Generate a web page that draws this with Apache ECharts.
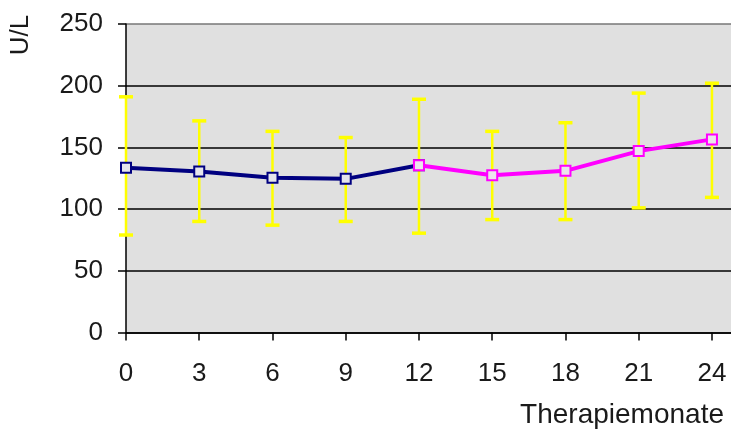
<!DOCTYPE html>
<html>
<head>
<meta charset="utf-8">
<script src="https://cdn.jsdelivr.net/npm/echarts@6/dist/echarts.min.js"></script>
<style>html,body{margin:0;padding:0;background:#fff}#c{width:731px;height:431px}</style>
</head>
<body>
<div id="c"></div>
<script>
var months = [0, 3, 6, 9, 12, 15, 18, 21, 24];
var means  = [133.5, 130.5, 125.5, 124.5, 135.5, 127.5, 131, 147, 156.5];
var lows   = [79, 90, 87, 90, 80.5, 91.5, 91.5, 101, 109.5];
var highs  = [191, 171.5, 163, 158, 189, 163, 170, 194, 202];
var yTicks = [0, 50, 100, 150, 200, 250];
var splitAt = 4; // index where the second phase starts (month 12)

var phase1 = [], phase2 = [], bars = [];
for (var i = 0; i < months.length; i++) {
  if (i <= splitAt) phase1.push([months[i], means[i]]);
  if (i >= splitAt) phase2.push([months[i], means[i]]);
  bars.push([months[i], lows[i], highs[i]]);
}

var chart = echarts.init(document.getElementById('c'));
var FONT = 'Liberation Sans, Arial, sans-serif';
var TXT = '#1a1a1a';
chart.setOption({
  animation: false,
  backgroundColor: '#fff',
  grid: { left: 126, right: 0, top: 24, bottom: 98.5, show: true, backgroundColor: '#e0e0e0', borderWidth: 0 },
  xAxis: {
    type: 'value', min: 0, max: 24.78, interval: 3,
    axisLine: { lineStyle: { color: '#000', width: 1.5 } },
    axisTick: { show: true, length: 8, customValues: months, lineStyle: { color: '#000', width: 1.5 } },
    axisLabel: { customValues: months, margin: 28, fontSize: 26, color: TXT, fontFamily: FONT },
    splitLine: { show: false }
  },
  yAxis: {
    type: 'value', min: 0, max: 250, interval: 50,
    axisLine: { show: true, lineStyle: { color: '#000', width: 1.5 } },
    axisTick: { show: true, length: 8, lineStyle: { color: '#000', width: 1.5 } },
    axisLabel: { margin: 23, fontSize: 26, color: TXT, fontFamily: FONT,
      formatter: function (v) { return yTicks.indexOf(v) >= 0 ? String(v) : ''; } },
    splitLine: { show: true, lineStyle: { color: ['#000', '#000', '#000', '#000', '#000', '#777'], width: 1.5 } }
  },
  graphic: [
    { type: 'text', x: 21, y: 35, rotation: Math.PI / 2,
      style: { text: 'U/L', fontSize: 26, fontFamily: FONT, fill: TXT, align: 'center', verticalAlign: 'middle' } },
    { type: 'text', right: 7, top: 401,
      style: { text: 'Therapiemonate', fontSize: 28, fontFamily: FONT, fill: TXT } }
  ],
  series: [
    {
      type: 'custom', z: 1, data: bars,
      renderItem: function (params, api) {
        var x = api.value(0);
        var lo = api.coord([x, api.value(1)]);
        var hi = api.coord([x, api.value(2)]);
        var hw = 7;
        var st = { stroke: '#ffff00', lineWidth: 2.5 };
        var cap = { stroke: '#ffff00', lineWidth: 3.5 };
        return { type: 'group', children: [
          { type: 'line', shape: { x1: lo[0], y1: lo[1], x2: hi[0], y2: hi[1] }, style: st },
          { type: 'line', shape: { x1: lo[0] - hw, y1: lo[1], x2: lo[0] + hw, y2: lo[1] }, style: cap },
          { type: 'line', shape: { x1: hi[0] - hw, y1: hi[1], x2: hi[0] + hw, y2: hi[1] }, style: cap }
        ]};
      }
    },
    {
      type: 'line', z: 3, data: phase1, symbol: 'rect', symbolSize: 10, showAllSymbol: true,
      lineStyle: { color: '#000080', width: 4 },
      itemStyle: { color: '#e4e4ec', borderColor: '#000080', borderWidth: 2 }
    },
    {
      type: 'line', z: 4, data: phase2, symbol: 'rect', symbolSize: 10, showAllSymbol: true,
      lineStyle: { color: '#ff00ff', width: 4 },
      itemStyle: { color: '#ece4ec', borderColor: '#ff00ff', borderWidth: 2 }
    }
  ]
});
</script>
</body>
</html>
